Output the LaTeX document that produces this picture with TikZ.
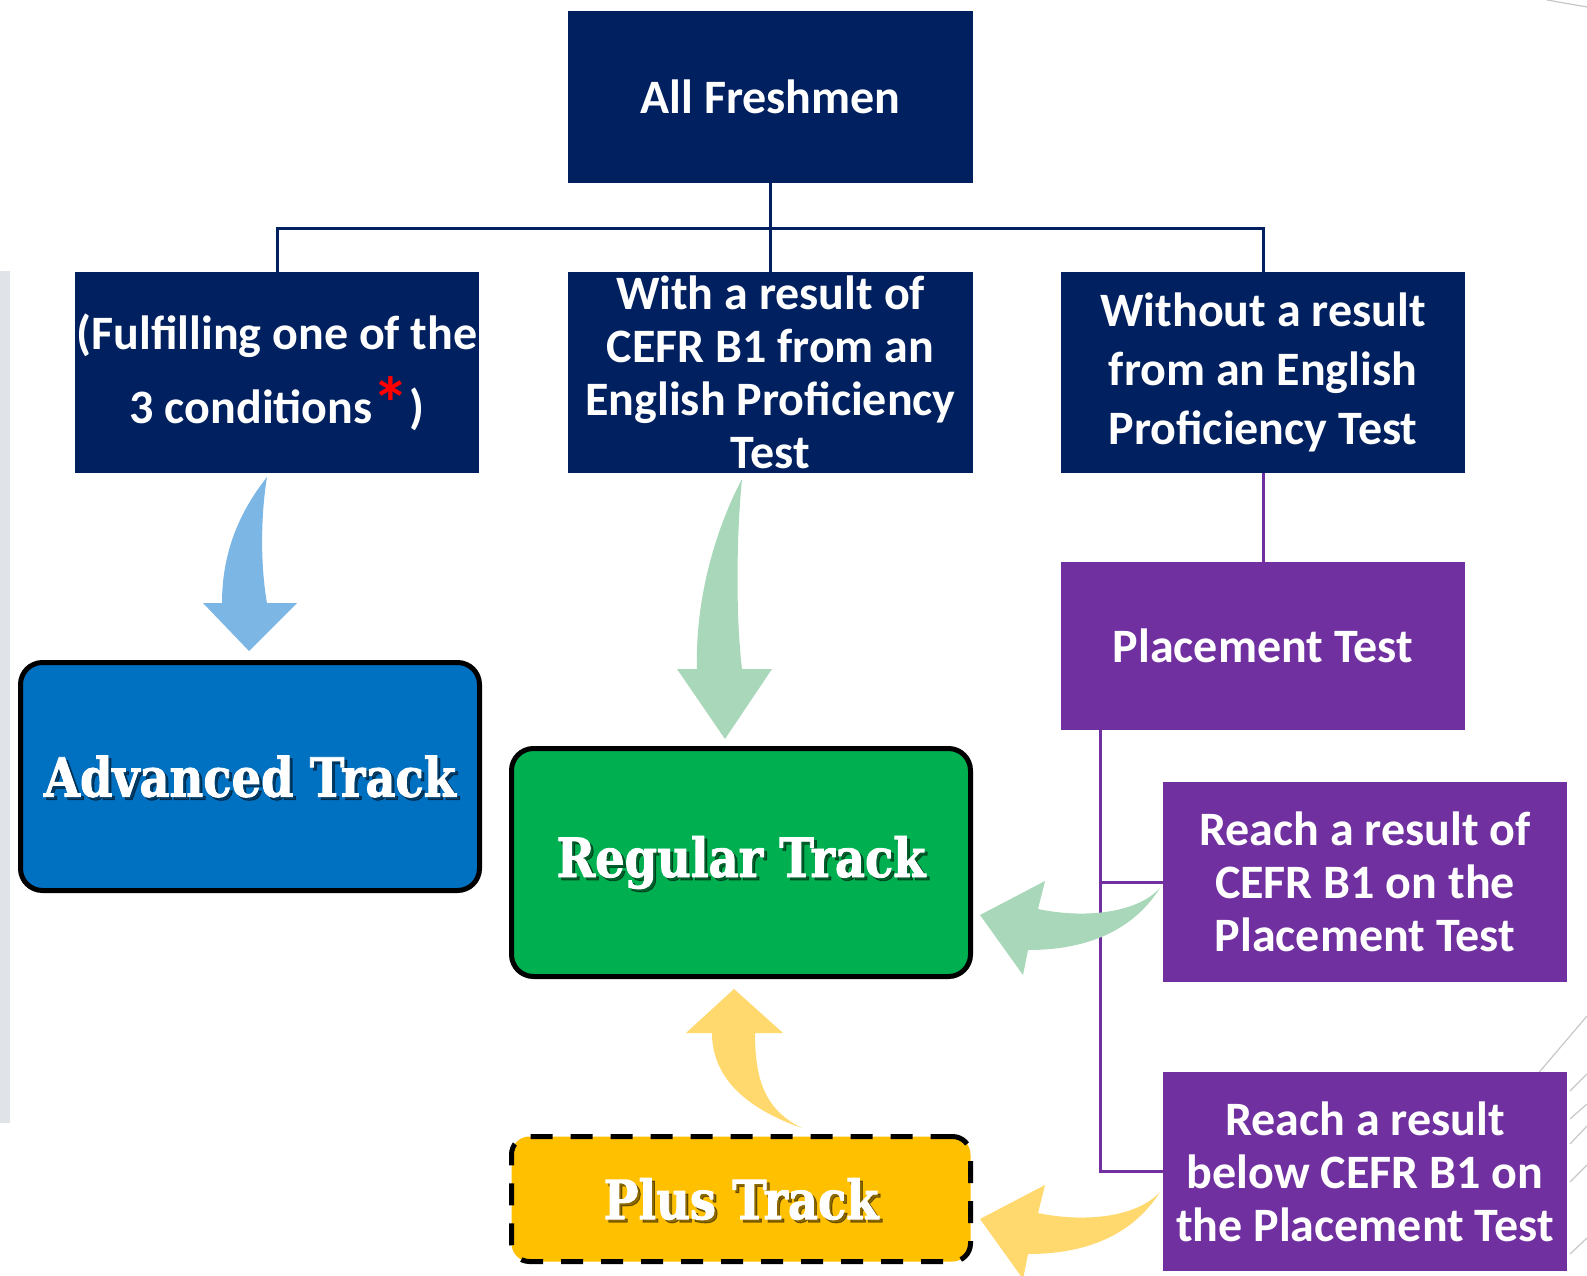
\documentclass[tikz,border=0pt]{standalone}
\usepackage{fontspec}
\setmainfont{Carlito}
\newfontfamily\trackfont[FakeStretch=0.86,FakeBold=1.6]{DejaVu Serif}
\definecolor{navy}{HTML}{002060}
\definecolor{purp}{HTML}{7030A0}
\definecolor{advblue}{HTML}{0070C0}
\definecolor{reggreen}{HTML}{00B050}
\definecolor{plusyellow}{HTML}{FFC000}
\definecolor{arrblue}{HTML}{7CB6E4}
\definecolor{arrgreen}{HTML}{A8D8B9}
\definecolor{arryellow}{HTML}{FFD96E}
\definecolor{barg}{HTML}{E0E3E7}
\definecolor{decog}{HTML}{C8C8C8}
\begin{document}
\begin{tikzpicture}[x=1pt,y=-1pt,
  box/.style={rectangle, inner sep=0pt, text=white, align=center,
    font=\bfseries\fontsize{48}{53}\selectfont},
  navybox/.style={box, fill=navy},
  purpbox/.style={box, fill=purp},
  trackbox/.style={rectangle, rounded corners=22pt, line width=5pt, draw=black,
    minimum width=459pt, minimum height=228pt},
  tracktext/.style={text=white, inner sep=0pt,
    font=\trackfont\bfseries\fontsize{54}{54}\selectfont},
  trackshadow/.style={text=black, text opacity=0.45, inner sep=0pt,
    font=\trackfont\bfseries\fontsize{54}{54}\selectfont},
  navyline/.style={draw=navy, line width=3pt},
  purpline/.style={draw=purp, line width=3pt},
  decoline/.style={draw=decog, line width=1.2pt}
]
\useasboundingbox (0,0) rectangle (1587,1276);
\fill[white] (0,0) rectangle (1587,1276);
% side decorations
\fill[barg] (0,271) rectangle (10,1123);
\draw[decoline] (1547,0) -- (1587,7);
\draw[decoline] (1530,1083) -- (1587,1016);
\draw[decoline] (1570,1091) -- (1587,1074);
\draw[decoline] (1570,1119) -- (1587,1104);
\draw[decoline] (1570,1144) -- (1587,1126);
\draw[decoline] (1570,1182) -- (1587,1165);
\draw[decoline] (1570,1254) -- (1587,1238);

% top boxes
\node[navybox, minimum width=405pt, minimum height=172pt] (fresh) at (770.5,97) {All Freshmen};
\node[navybox, minimum width=404pt, minimum height=201pt,
  font=\bfseries\fontsize{48}{74}\selectfont] (cond) at (277,372.5)
  {(Fulfilling one of the\\3 conditions{\color{red}\fontsize{74}{74}\selectfont\raisebox{-6pt}{*}})};
\node[navybox, minimum width=405pt, minimum height=201pt] (with) at (770.5,372.5)
  {With a result of\\CEFR B1 from an\\English Proficiency\\Test};
\node[navybox, minimum width=404pt, minimum height=201pt,
  font=\bfseries\fontsize{48}{59}\selectfont] (without) at (1263,372.5)
  {Without a result\\from an English\\Proficiency Test};
\node[purpbox, minimum width=404pt, minimum height=168pt] (place) at (1263,646) {Placement Test};
\node[purpbox, minimum width=404pt, minimum height=200pt] (reach1) at (1365,882)
  {Reach a result of\\CEFR B1 on the\\Placement Test};
\node[purpbox, minimum width=404pt, minimum height=199pt] (reach2) at (1365,1171.5)
  {Reach a result\\below CEFR B1 on\\the Placement Test};

% connectors
\coordinate (hub) at (770.5,228);
\draw[navyline] (fresh.south) -- (with.north);
\draw[navyline] (cond.north) |- (hub) -| (without.north);
\draw[purpline] (without.south) -- (place.north);
\coordinate (pv) at (1100,730);
\coordinate (pb1) at (1100,882);
\draw[purpline] (pv) |- (reach2.west);
\draw[purpline] (pb1) -- (reach1.west);

% track boxes
\node[trackbox, fill=advblue] (adv) at (250,776.5) {};
\node[trackbox, fill=reggreen] (reg) at (741,862.5) {};
\node[trackbox, fill=plusyellow, minimum height=125pt, rounded corners=18pt,
  dash pattern=on 22pt off 18pt] (plus) at (741,1199) {};
\node[trackshadow] (advs) at ([shift={(3pt,-3pt)}]adv.center) {Advanced Track};
\node[tracktext] (advt) at (adv.center) {Advanced Track};
\node[trackshadow] (regs) at ([shift={(3pt,-3pt)}]reg.center) {Regular Track};
\node[tracktext] (regt) at (reg.center) {Regular Track};
\node[trackshadow] (pluss) at ([shift={(3pt,-3pt)}]plus.center) {Plus Track};
\node[tracktext] (plust) at (plus.center) {Plus Track};

% block arrows
\fill[arrblue] (267,477) .. controls (245,505) and (222,545) .. (222,603)
  -- (203,603) -- (249,651) -- (297,603) -- (267,603)
  .. controls (261,570) and (260,520) .. (267,477) -- cycle;
\fill[arrgreen] (742,479) .. controls (715,530) and (695,600) .. (697,669)
  -- (677,669) -- (725,739) -- (772,669) -- (742,669)
  .. controls (736,620) and (736,540) .. (742,479) -- cycle;
\fill[arrgreen] (1160,888) .. controls (1130,935) and (1080,950) .. (1028,950)
  -- (1023,975) -- (980,915) -- (1045,881) -- (1038,909)
  .. controls (1080,918) and (1135,915) .. (1160,888) -- cycle;
\begin{scope}[yshift=-304pt]
\fill[arryellow] (1160,888) .. controls (1130,935) and (1080,950) .. (1028,950)
  -- (1023,975) -- (980,915) -- (1045,881) -- (1038,909)
  .. controls (1080,918) and (1135,915) .. (1160,888) -- cycle;
\end{scope}
\fill[arryellow] (734,989) -- (783,1033) -- (755,1033)
  .. controls (755,1080) and (765,1110) .. (802,1128)
  .. controls (750,1110) and (712,1080) .. (712,1033) -- (686,1033) -- cycle;
\end{tikzpicture}
\end{document}
